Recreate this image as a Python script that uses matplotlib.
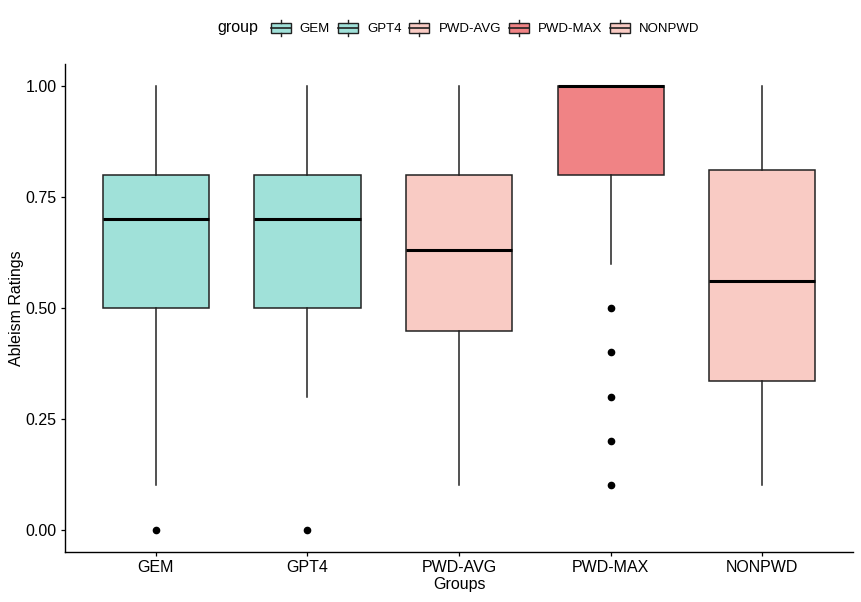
import matplotlib
matplotlib.use("Agg")
import matplotlib.pyplot as plt
from matplotlib.legend_handler import HandlerBase
from matplotlib.patches import Rectangle, Patch
from matplotlib.lines import Line2D
from matplotlib.offsetbox import HPacker

plt.rcParams['font.family'] = ['Liberation Sans', 'DejaVu Sans']

groups = ["GEM", "GPT4", "PWD-AVG", "PWD-MAX", "NONPWD"]
whislo = [0.1, 0.3, 0.1, 0.6, 0.1]
q1 = [0.5, 0.5, 0.449, 0.8, 0.335]
med = [0.7, 0.7, 0.631, 1.0, 0.56]
q3 = [0.8, 0.8, 0.8, 1.0, 0.811]
whishi = [1.0, 1.0, 1.0, 1.0, 1.0]
fliers = [[0.0], [0.0], [], [0.5, 0.4, 0.3, 0.2, 0.1], []]
colors = ["#A0E1D9", "#A0E1D9", "#F9CBC4", "#F08385", "#F9CBC4"]

fig = plt.figure(figsize=(8.62, 6.02), dpi=100)
ax = fig.add_axes([0.0754, 0.083, 0.9142, 0.811])

stats = []
for i, g in enumerate(groups):
    stats.append(dict(label=g, whislo=whislo[i], q1=q1[i], med=med[i], q3=q3[i],
                      whishi=whishi[i], fliers=fliers[i]))
positions = list(range(1, len(groups) + 1))
bp = ax.bxp(stats, positions=positions, widths=0.7, patch_artist=True,
            showcaps=False,
            boxprops=dict(edgecolor="#222222", linewidth=1.1),
            whiskerprops=dict(color="#222222", linewidth=1.1),
            medianprops=dict(color="black", linewidth=2.2),
            flierprops=dict(marker="o", markerfacecolor="black", markeredgecolor="black",
                            markersize=4.5, linestyle="none"))
for patch, c in zip(bp["boxes"], colors):
    patch.set_facecolor(c)

ax.set_xlim(0.4, 5.6)
ax.set_ylim(-0.05, 1.05)
ax.set_yticks([0, 0.25, 0.5, 0.75, 1.0])
ax.set_yticklabels(["0.00", "0.25", "0.50", "0.75", "1.00"])
ax.set_xticks(positions)
ax.set_xticklabels(groups)
ax.tick_params(axis="both", labelsize=11.5, colors="black", length=3, width=0.9, pad=3)
ax.spines["top"].set_visible(False)
ax.spines["right"].set_visible(False)
for s in ["left", "bottom"]:
    ax.spines[s].set_linewidth(1.0)
ax.set_xlabel("Groups", fontsize=11.5, labelpad=1)
ax.set_ylabel("Ableism Ratings", fontsize=11.5, labelpad=1)


class BoxHandler(HandlerBase):
    def create_artists(self, legend, orig_handle, xdescent, ydescent, width, height, fontsize, trans):
        c = orig_handle.get_facecolor()
        w = width
        h = height
        bx0 = w * 0.06
        bw = w * 0.88
        by0 = -ydescent + h * 0.2
        bh = h * 0.6
        r = Rectangle((bx0, by0), bw, bh, facecolor=c, edgecolor="#222222", linewidth=1.0, transform=trans)
        m = Line2D([bx0, bx0 + bw], [by0 + bh / 2] * 2, color="#222222", linewidth=1.2, transform=trans)
        wt = Line2D([w / 2, w / 2], [-ydescent, by0], color="#222222", linewidth=1.0, transform=trans)
        wb = Line2D([w / 2, w / 2], [by0 + bh, -ydescent + h], color="#222222", linewidth=1.0, transform=trans)
        return [r, m, wt, wb]


handles = [Patch(facecolor=c) for c in colors]
leg = fig.legend(handles, groups, loc="upper center", bbox_to_anchor=(0.532, 0.987), ncol=5,
                 frameon=False, fontsize=9.5, handler_map={Patch: BoxHandler()},
                 handlelength=1.7, handleheight=1.5, handletextpad=0.6, columnspacing=0.5,
                 title="group", title_fontsize=11.5)
title_box = leg._legend_title_box
handle_box = leg._legend_handle_box
leg._legend_box._children = [HPacker(pad=0, sep=8, align="center", children=[title_box, handle_box])]

fig.savefig("out.png", dpi=100)
